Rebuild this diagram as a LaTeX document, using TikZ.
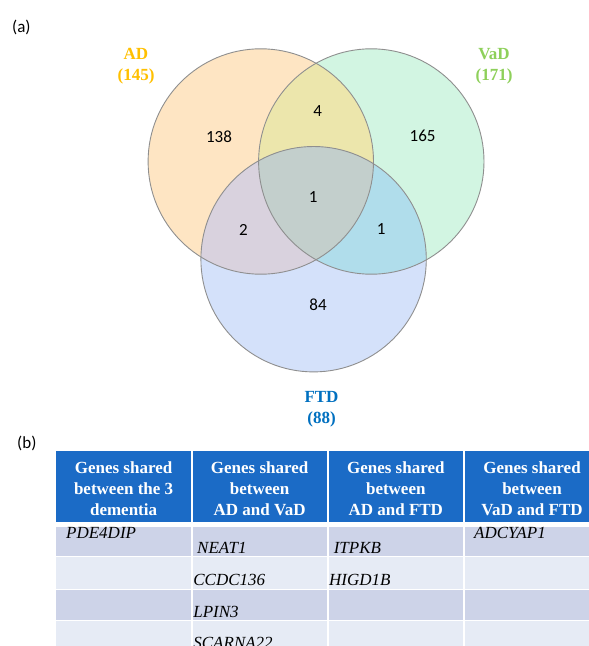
\documentclass[tikz,border=0pt]{standalone}
\usepackage{fontspec}
\setmainfont{Liberation Serif}
\newfontfamily\calib{Carlito}
\definecolor{adc}{HTML}{FEE5C3}
\definecolor{vac}{HTML}{D2F5E2}
\definecolor{ftc}{HTML}{D4E1FA}
\definecolor{advac}{HTML}{ECE6AC}
\definecolor{adftc}{HTML}{D9D2DE}
\definecolor{vaftc}{HTML}{B0DDEB}
\definecolor{allc}{HTML}{C3CFCC}
\definecolor{edgec}{HTML}{8F8F8F}
\definecolor{adlab}{HTML}{FFC000}
\definecolor{valab}{HTML}{8ED05A}
\definecolor{ftlab}{HTML}{0070C0}
\definecolor{hdrc}{HTML}{1B6BC6}
\definecolor{rowa}{HTML}{CDD3E8}
\definecolor{rowb}{HTML}{E6EBF5}
\begin{document}
\begin{tikzpicture}[x=1pt,y=-1pt,
  num/.style={inner sep=0pt, font=\calib\fontsize{17}{20}\selectfont},
  setlab/.style={inner sep=0pt, anchor=base, align=center, font=\bfseries\fontsize{17}{21}\selectfont},
  hdr/.style={inner sep=0pt, anchor=base, align=center, text=white, font=\bfseries\fontsize{17}{21}\selectfont},
  gene/.style={inner sep=0pt, anchor=base west, font=\itshape\fontsize{17}{20}\selectfont}]
\clip (0,0) rectangle (589,646);
\fill[white] (0,0) rectangle (589,646);
\def\adpath{(260.8,161.5) circle [radius=112.7pt]}
\def\vapath{(371.3,161.5) circle [radius=112.7pt]}
\def\ftpath{(313.6,259.2) circle [radius=112.7pt]}
% single sets
\fill[adc] \adpath;
\fill[vac] \vapath;
\fill[ftc] \ftpath;
% pairwise
\begin{scope}\clip \adpath; \fill[advac] \vapath; \end{scope}
\begin{scope}\clip \adpath; \fill[adftc] \ftpath; \end{scope}
\begin{scope}\clip \vapath; \fill[vaftc] \ftpath; \end{scope}
\begin{scope}\clip \adpath; \clip \vapath; \fill[allc] \ftpath; \end{scope}
% outlines
\draw[edgec, line width=0.9pt] \adpath;
\draw[edgec, line width=0.9pt] \vapath;
\draw[edgec, line width=0.9pt] \ftpath;
% panel labels
\node[num, anchor=base west] (pa) at (12,32) {(a)};
\node[num, anchor=base west] (pb) at (17,448) {(b)};
% set labels
\node[setlab, text=adlab] (adl) at (136,80) {AD\\(145)};
\node[setlab, text=valab] (val) at (494,80) {VaD\\(171)};
\node[setlab, text=ftlab] (ftl) at (321.5,423) {FTD\\(88)};
% counts
\node[num] (n138) at (219,137) {138};
\node[num] (n4) at (317.7,111) {4};
\node[num] (n165) at (422.6,136) {165};
\node[num] (n1c) at (313.2,197) {1};
\node[num] (n2) at (243.4,230) {2};
\node[num] (n1r) at (381.1,229) {1};
\node[num] (n84) at (318.1,305) {84};
% table header
\fill[hdrc] (55.8,451) rectangle (190.7,522);
\fill[hdrc] (192.7,451) rectangle (326.5,522);
\fill[hdrc] (328.5,451) rectangle (463.2,522);
\fill[hdrc] (465.2,451) rectangle (600,522);
% body rows
\foreach \ya/\yb/\cc in {527/555.5/rowa, 556.5/588.5/rowb, 589.5/619.5/rowa, 620.5/660/rowb}{
  \fill[\cc] (55.8,\ya) rectangle (190.7,\yb);
  \fill[\cc] (192.7,\ya) rectangle (326.5,\yb);
  \fill[\cc] (328.5,\ya) rectangle (463.2,\yb);
  \fill[\cc] (465.2,\ya) rectangle (600,\yb);
}
% header texts
\node[hdr] (h1) at (123.6,515) {Genes shared\\between the 3\\dementia};
\node[hdr] (h2) at (259.6,515) {Genes shared\\between\\AD and VaD};
\node[hdr] (h3) at (395.8,515) {Genes shared\\between\\AD and FTD};
\node[hdr] (h4) at (532,515) {Genes shared\\between\\VaD and FTD};
% genes
\node[gene] (g1) at (66,538) {PDE4DIP};
\node[gene] (g2) at (197,553) {NEAT1};
\node[gene] (g3) at (333.6,553) {ITPKB};
\node[gene] (g4) at (474,538) {ADCYAP1};
\node[gene] (g5) at (193.2,585) {CCDC136};
\node[gene] (g6) at (329,585) {HIGD1B};
\node[gene] (g7) at (193.2,617) {LPIN3};
\node[gene] (g8) at (193.2,648) {SCARNA22};
\end{tikzpicture}
\end{document}
